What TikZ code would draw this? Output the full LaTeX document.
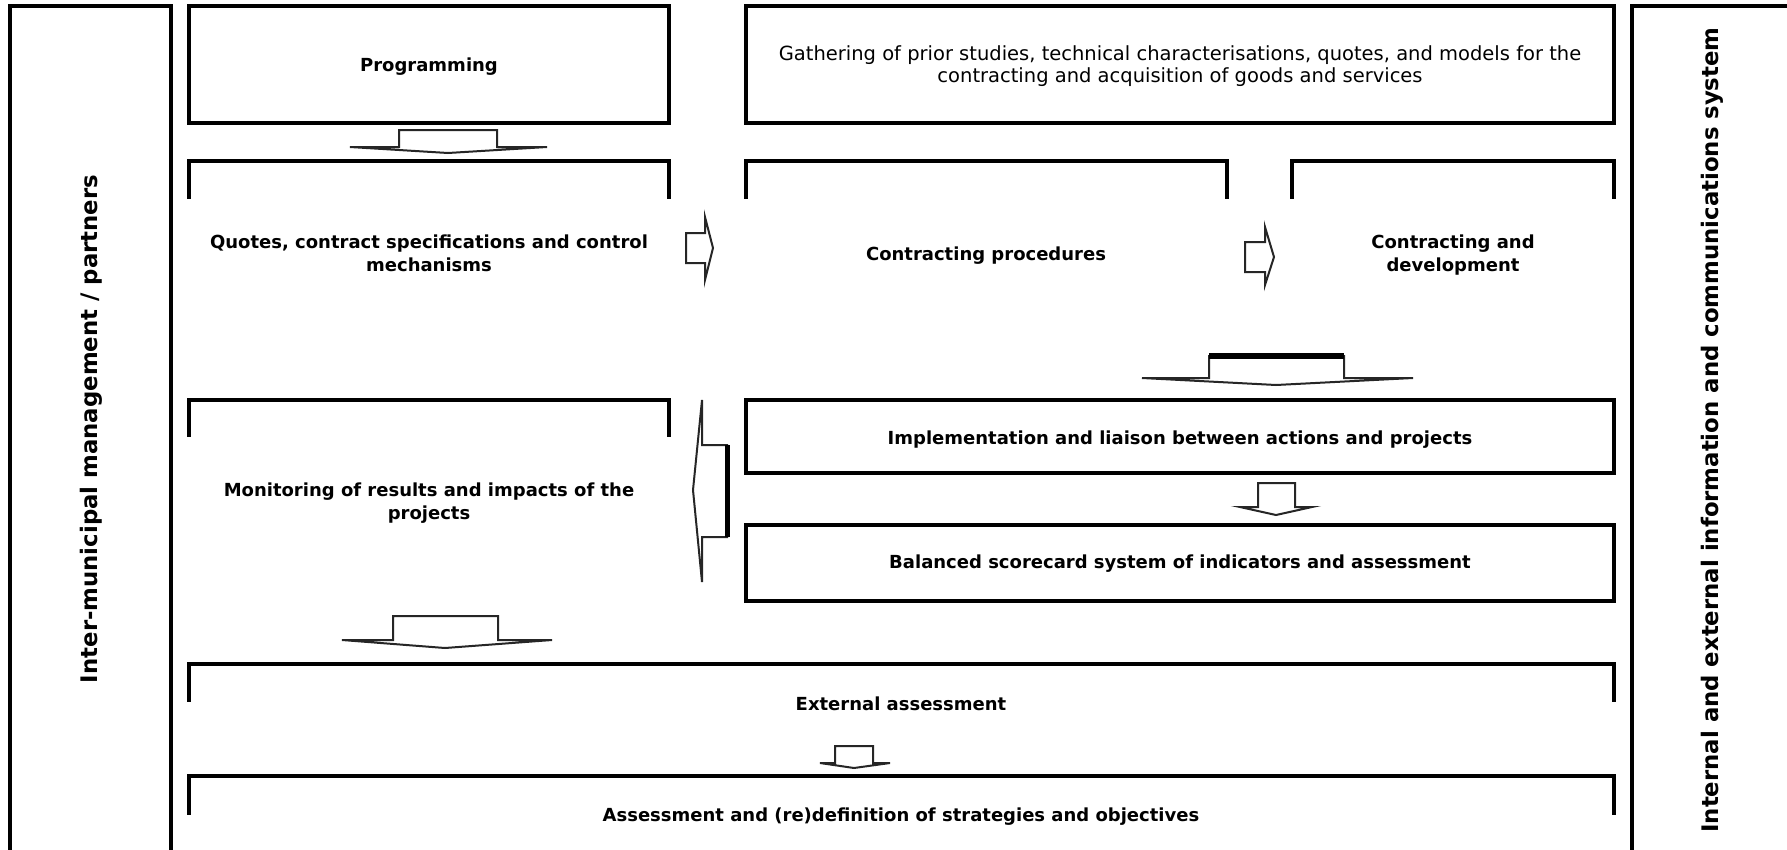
\documentclass[tikz,border=0pt]{standalone}
\usepackage{fontspec}
\setmainfont{DejaVu Sans}
\begin{document}
\begin{tikzpicture}[x=1pt,y=-1pt,
  frame/.style={draw=black,line width=3.1pt,line cap=rect},
  lbl/.style={font=\bfseries\fontsize{18}{23}\selectfont,align=center,inner sep=0pt},
  reg/.style={font=\fontsize{19.5}{22.5}\selectfont,align=center,inner sep=0pt},
  side/.style={font=\bfseries\fontsize{22.8}{28}\selectfont,rotate=90,inner sep=0pt},
  blockarrow/.style={draw=black!85,line width=2pt,fill=white,line join=miter},
  heavy/.style={draw=black,line width=6pt}]
\useasboundingbox (0,0) rectangle (1787,849);
\clip (0,0) rectangle (1787,849);

% side frames
\draw[frame] (10,900) -- (10,6) -- (171,6) -- (171,900);
\node[side] (mgmt) at (91,429) {Inter-municipal management / partners};
\draw[frame] (1632,900) -- (1632,6) -- (1800,6);
\node[side] (info) at (1712,430) {Internal and external information and communications system};

% top row
\draw[frame] (189,6) rectangle (669,123);
\node[lbl] (prog) at (429,67) {Programming};
\draw[frame] (746,6) rectangle (1614,123);
\node[reg] (gath) at (1180,66) {Gathering of prior studies, technical characterisations, quotes, and models for the\\contracting and acquisition of goods and services};

% second row (open boxes)
\draw[frame] (189,197) -- (189,161) -- (669,161) -- (669,197);
\node[lbl] (quotes) at (429,253) {Quotes, contract specifications and control\\mechanisms};
\draw[frame] (746,197) -- (746,161) -- (1227,161) -- (1227,197);
\node[lbl] (proc) at (986,256) {Contracting procedures};
\draw[frame] (1292,197) -- (1292,161) -- (1614,161) -- (1614,197);
\node[lbl] (dev) at (1453,255) {Contracting and\\development};

% third block
\draw[frame] (189,435) -- (189,400) -- (669,400) -- (669,435);
\node[lbl] (mon) at (429,503) {Monitoring of results and impacts of the\\projects};
\draw[frame] (746,400) rectangle (1614,473);
\node[lbl] (impl) at (1180,440) {Implementation and liaison between actions and projects};
\draw[frame] (746,525) rectangle (1614,601);
\node[lbl] (bsc) at (1180,564) {Balanced scorecard system of indicators and assessment};

% bottom rows
\draw[frame] (189,700) -- (189,664) -- (1614,664) -- (1614,700);
\node[lbl] (ext) at (901,704) {External assessment};
\draw[frame] (189,813) -- (189,776) -- (1614,776) -- (1614,813);
\node[lbl] (strat) at (901,817) {Assessment and (re)definition of strategies and objectives};

% block arrows
\draw[blockarrow] (350,147) -- (399,147) -- (399,130) -- (497,130) -- (497,147) -- (547,147) -- (448,153) -- cycle;
\draw[blockarrow] (705,217) -- (705,233) -- (686,233) -- (686,263) -- (705,263) -- (705,280) -- (713,248) -- cycle;
\draw[blockarrow] (1265,227) -- (1265,242) -- (1245,242) -- (1245,272) -- (1265,272) -- (1265,285) -- (1274,257) -- cycle;
\draw[blockarrow] (1142,378) -- (1209,378) -- (1209,356) -- (1344,356) -- (1344,378) -- (1413,378) -- (1276,385) -- cycle;
\draw[heavy] (1209,356) -- (1344,356);
\draw[blockarrow] (702,400) -- (702,445) -- (727,445) -- (727,537) -- (702,537) -- (702,582) -- (693,490) -- cycle;
\draw[heavy,line width=5pt] (727,445) -- (727,537);
\draw[blockarrow] (1240,507) -- (1258,507) -- (1258,483) -- (1295,483) -- (1295,507) -- (1312,507) -- (1276,515) -- cycle;
\draw[blockarrow] (342,640) -- (393,640) -- (393,616) -- (498,616) -- (498,640) -- (552,640) -- (445,648) -- cycle;
\draw[blockarrow] (820,763) -- (835,763) -- (835,746) -- (873,746) -- (873,763) -- (890,763) -- (854,768) -- cycle;
\end{tikzpicture}
\end{document}
